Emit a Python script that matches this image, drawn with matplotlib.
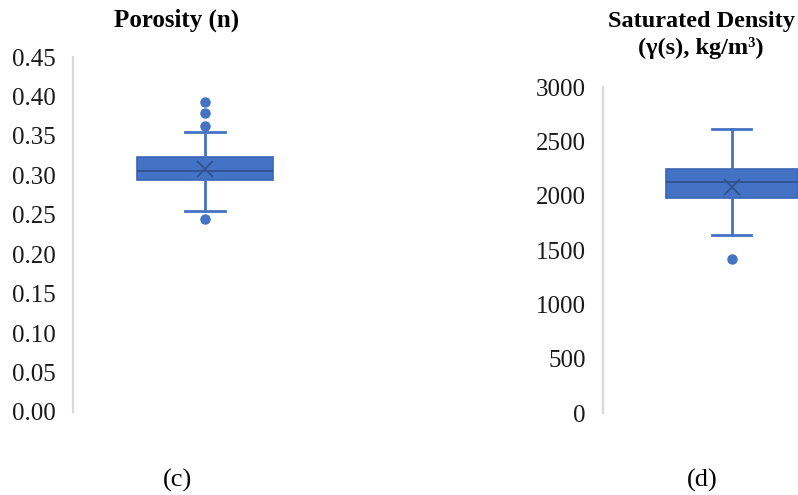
import matplotlib.pyplot as plt

# Box statistics for each panel
porosity_stats = dict(q1=0.294, med=0.3055, q3=0.3228, whislo=0.2551, whishi=0.3553,
                      mean=0.308, fliers=[0.3933, 0.3786, 0.3625, 0.2446])
density_stats = dict(q1=1977, med=2130, q3=2244, whislo=1639, whishi=2612,
                     mean=2084, fliers=[1421])

porosity_ticks = [0.00, 0.05, 0.10, 0.15, 0.20, 0.25, 0.30, 0.35, 0.40, 0.45]
density_ticks = [0, 500, 1000, 1500, 2000, 2500, 3000]

porosity_title = "Porosity (n)"
density_title = "Saturated Density\n(\u03b3(s), kg/m\u00b3)"
panel_labels = ["(c)", "(d)"]

W, H = 798, 495
BLUE = "#4472C4"
DARK = "#2F528F"
FONT = "Liberation Serif"

fig = plt.figure(figsize=(W / 100, H / 100), dpi=100)


def px_axes(x0, x1, ytop, ybot):
    return fig.add_axes([x0 / W, (H - ybot) / H, (x1 - x0) / W, (ybot - ytop) / H])


def draw_box(ax, stats, width, capwidth, ylim, ticks, fmt):
    s = dict(stats, label="")
    ax.bxp([s], positions=[1], widths=width, capwidths=capwidth,
           showmeans=True, meanline=False, patch_artist=True,
           boxprops=dict(facecolor=BLUE, edgecolor="#3A65B5", linewidth=1.2),
           medianprops=dict(color=DARK, linewidth=1.3),
           whiskerprops=dict(color=BLUE, linewidth=2),
           capprops=dict(color=BLUE, linewidth=2),
           meanprops=dict(marker="x", markeredgecolor=DARK, markersize=12,
                          markeredgewidth=1.2),
           flierprops=dict(marker="o", markerfacecolor=BLUE, markeredgecolor=BLUE,
                           markersize=6.5))
    ax.set_xlim(0, 2)
    ax.set_ylim(ylim)
    ax.set_yticks(ticks)
    ax.set_yticklabels([fmt(t) for t in ticks], fontfamily=FONT, fontsize=18)
    ax.set_xticks([])
    for side in ["top", "right", "bottom"]:
        ax.spines[side].set_visible(False)
    ax.spines["left"].set_color("#d9d9d9")
    ax.spines["left"].set_linewidth(1.6)
    ax.tick_params(axis="y", length=0, pad=12.5, colors="#1a1a1a")
    ax.set_facecolor("none")


ax1 = px_axes(73, 337, 57, 412)
draw_box(ax1, porosity_stats, 1.03, 0.303, (0, 0.45), porosity_ticks,
         lambda t: f"{t:.2f}")

ax2 = px_axes(603, 860.4, 87.3, 413)
draw_box(ax2, density_stats, 1.026, 0.303, (0, 3000), density_ticks,
         lambda t: f"{t:d}")

fig.text(177 / W, 1 - 20 / H, porosity_title, ha="center", va="center",
         fontfamily=FONT, fontweight="bold", fontsize=18)
fig.text(701 / W, 1 - 35 / H, density_title, ha="center", va="center",
         fontfamily=FONT, fontweight="bold", fontsize=17.5, linespacing=1.25)

fig.text(177 / W, 1 - 480 / H, panel_labels[0], ha="center", va="center",
         fontfamily=FONT, fontsize=19)
fig.text(702 / W, 1 - 480 / H, panel_labels[1], ha="center", va="center",
         fontfamily=FONT, fontsize=19)

fig.savefig("out.png", dpi=100)
